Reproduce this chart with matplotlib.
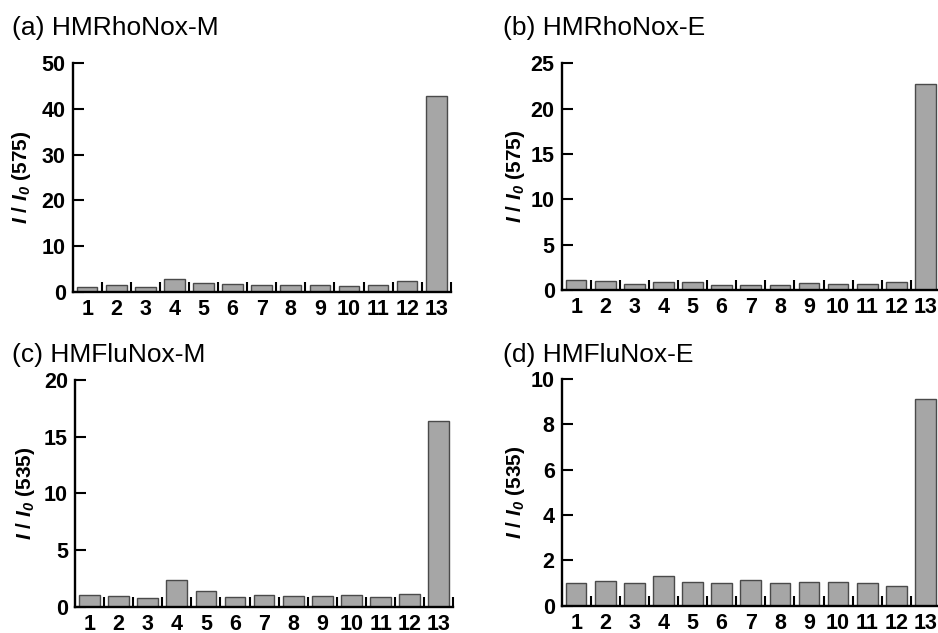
import numpy as np
import matplotlib
matplotlib.use("Agg")
import matplotlib.pyplot as plt
from matplotlib.ticker import FixedLocator

plt.rcParams['font.family'] = ['Liberation Sans', 'DejaVu Sans']
plt.rcParams['mathtext.fontset'] = 'custom'
plt.rcParams['mathtext.rm'] = 'Liberation Sans:bold'
plt.rcParams['mathtext.bf'] = 'Liberation Sans:bold'
plt.rcParams['mathtext.it'] = 'Liberation Sans:italic:bold'
plt.rcParams['mathtext.bfit'] = 'Liberation Sans:italic:bold'

categories = [str(i) for i in range(1, 14)]

titles = ["(a) HMRhoNox-M", "(b) HMRhoNox-E", "(c) HMFluNox-M", "(d) HMFluNox-E"]
ylabels = [r"$\mathbfit{I}$ / $\mathbfit{I}_{\mathbfit{0}}$ (575)",
           r"$\mathbfit{I}$ / $\mathbfit{I}_{\mathbfit{0}}$ (575)",
           r"$\mathbfit{I}$ / $\mathbfit{I}_{\mathbfit{0}}$ (535)",
           r"$\mathbfit{I}$ / $\mathbfit{I}_{\mathbfit{0}}$ (535)"]

values_a = [1.1, 1.4, 1.1, 2.7, 1.9, 1.6, 1.5, 1.4, 1.4, 1.2, 1.5, 2.3, 42.8]
values_b = [1.1, 1.0, 0.7, 0.9, 0.85, 0.6, 0.6, 0.5, 0.75, 0.7, 0.7, 0.9, 22.75]
values_c = [1.0, 0.95, 0.75, 2.35, 1.35, 0.85, 1.0, 0.97, 0.97, 1.0, 0.85, 1.1, 16.4]
values_d = [1.0, 1.07, 1.0, 1.33, 1.04, 1.0, 1.12, 1.0, 1.03, 1.03, 0.98, 0.85, 9.1]

yticks_a = [0, 10, 20, 30, 40, 50]
yticks_b = [0, 5, 10, 15, 20, 25]
yticks_c = [0, 5, 10, 15, 20]
yticks_d = [0, 2, 4, 6, 8, 10]

all_values = [values_a, values_b, values_c, values_d]
all_yticks = [yticks_a, yticks_b, yticks_c, yticks_d]

# axes rectangles [left, bottom, width, height] in figure fraction
rects = [[0.0774, 0.5392, 0.4032, 0.3608],
         [0.5987, 0.5419, 0.4034, 0.3581],
         [0.0799, 0.04155, 0.4034, 0.3582],
         [0.5987, 0.0431, 0.4034, 0.3582]]
label_x = [-0.1047, -0.0914, -0.100, -0.0914]
title_pos = [(12, 35), (503, 35), (12, 362), (503, 362)]

W, H = 938, 633
fig = plt.figure(figsize=(W / 100, H / 100), dpi=100)

x = np.arange(1, 14)
for i in range(4):
    ax = fig.add_axes(rects[i])
    ax.bar(x, all_values[i], width=0.71, color='#a6a6a6', edgecolor='#4a4a4a', linewidth=1.0, zorder=2)
    ax.set_xlim(0.5, 13.5)
    ax.set_ylim(0, all_yticks[i][-1])
    ax.set_yticks(all_yticks[i])
    ax.set_xticks(x)
    ax.set_xticklabels(categories)
    ax.xaxis.set_minor_locator(FixedLocator(np.arange(1.5, 14.0, 1.0)))
    for s in ['top', 'right']:
        ax.spines[s].set_visible(False)
    for s in ['left', 'bottom']:
        ax.spines[s].set_linewidth(1.7)
        ax.spines[s].set_zorder(3)
    ax.tick_params(axis='x', which='major', length=0, pad=5, labelsize=15.5)
    ax.tick_params(axis='x', which='minor', direction='in', length=7, width=1.5)
    ax.tick_params(axis='y', which='major', direction='in', length=8, width=1.5, pad=5, labelsize=15.5)
    for lab in ax.get_xticklabels() + ax.get_yticklabels():
        lab.set_fontweight('bold')
    ax.set_ylabel(ylabels[i], fontsize=15, fontweight='bold')
    ax.yaxis.set_label_coords(label_x[i], 0.5)
    tx, ty = title_pos[i]
    fig.text(tx / W, 1 - ty / H, titles[i], fontsize=19, ha='left', va='baseline')

fig.savefig("out.png", dpi=100)
